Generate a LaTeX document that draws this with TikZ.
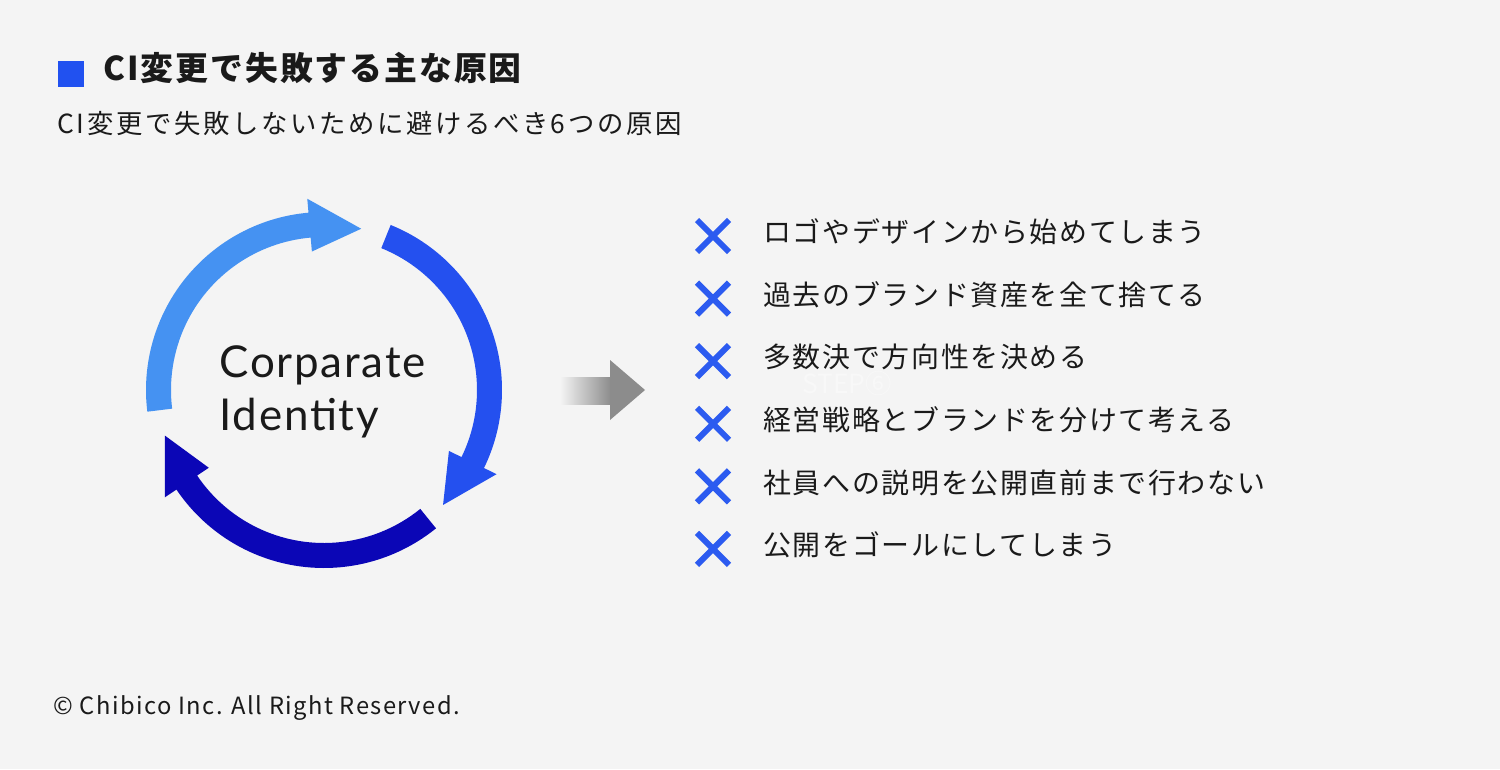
\documentclass[tikz,border=0pt]{standalone}
\usepackage{fontspec}
\usetikzlibrary{positioning,shapes.misc}
\setmainfont{Noto Sans CJK JP}
\newfontfamily\jpfont{Noto Sans CJK JP}
\newfontfamily\jpspaced[LetterSpace=6]{Noto Sans CJK JP}
\newfontfamily\subfont[LetterSpace=10]{Noto Sans CJK JP}
\newfontfamily\footfont[LetterSpace=6]{Noto Sans CJK JP}
\newfontfamily\latofont[LetterSpace=4]{Lato}

\definecolor{bgcol}{HTML}{F4F4F4}
\definecolor{squarecol}{HTML}{2151F0}
\definecolor{cycone}{HTML}{4592F2}
\definecolor{cyctwo}{HTML}{2450EF}
\definecolor{cycthree}{HTML}{0B06B6}
\definecolor{crosscol}{HTML}{2C5BF0}
\definecolor{inkcol}{HTML}{1A1A1A}
\definecolor{arrowgray}{HTML}{8C8C8C}
\definecolor{stepcol}{HTML}{F8F8F8}

\begin{document}
\begin{tikzpicture}[
        x=0.02cm, y=0.02cm,
        heading/.style={anchor=west, inner sep=0, text height=0.76em, text depth=0pt, text=inkcol},
        item/.style={anchor=west, inner sep=0, text height=0.76em, text depth=0pt, text=inkcol,
            font=\jpspaced\fontsize{15.9pt}{19pt}\selectfont},
        xmark/.style={cross out, draw=crosscol, line width=3.4pt, minimum size=0.64cm, inner sep=0, outer sep=0}
    ]
        % background
        \fill[bgcol] (0,0) rectangle (1500,769);

        % heading
        \fill[squarecol] (58,708) rectangle (84,682);
        \node [heading, font=\jpspaced\bfseries\fontsize{18.7pt}{22pt}\selectfont] (title) at (103,695) {CI変更で失敗する主な原因};
        \node [heading, font=\subfont\fontsize{15pt}{18pt}\selectfont] (sub) at (57,642) {CI変更で失敗しないために避けるべき6つの原因};

        % cycle of arrows
        \begin{scope}[shift={(324,379)}]
            \fill[cycone] (187:178) arc[start angle=187, end angle=95, radius=178] -- (95:192) -- (77:165.5) -- (95:139) -- (95:153) arc[start angle=95, end angle=187, radius=153] -- cycle;
            \fill[cyctwo] (68:178) arc[start angle=68, end angle=-26, radius=178] -- (-26:192) -- (-44:165.5) -- (-26:139) -- (-26:153) arc[start angle=-26, end angle=68, radius=153] -- cycle;
            \fill[cycthree] (-51:178) arc[start angle=-51, end angle=-146, radius=178] -- (-146:192) -- (-164:165.5) -- (-146:139) -- (-146:153) arc[start angle=-146, end angle=-51, radius=153] -- cycle;
        \end{scope}
        \node [anchor=west, align=left, inner sep=0, text=inkcol, font=\latofont\fontsize{25pt}{30pt}\selectfont] (ci) at (219,377) {Corparate\\Identity};

        % gray arrow
        \shade[left color=bgcol, right color=arrowgray] (560,392) rectangle (611,365);
        \fill[arrowgray] (610,409) -- (645,379) -- (610,349) -- cycle;
        \node [heading, text=stepcol, font=\jpfont\fontsize{15pt}{18pt}\selectfont] (step) at (802,382) {STEP⑥};

        % list of causes
        \node [item] (c1) at (763,533) {ロゴやデザインから始めてしまう};
        \node [item, below=1.252cm of c1.west, anchor=west] (c2) {過去のブランド資産を全て捨てる};
        \node [item, below=1.252cm of c2.west, anchor=west] (c3) {多数決で方向性を決める};
        \node [item, below=1.252cm of c3.west, anchor=west] (c4) {経営戦略とブランドを分けて考える};
        \node [item, below=1.252cm of c4.west, anchor=west] (c5) {社員への説明を公開直前まで行わない};
        \node [item, below=1.252cm of c5.west, anchor=west] (c6) {公開をゴールにしてしまう};

        \node [xmark, left=0.68cm of c1] (x1) {};
        \node [xmark, left=0.68cm of c2] (x2) {};
        \node [xmark, left=0.68cm of c3] (x3) {};
        \node [xmark, left=0.68cm of c4] (x4) {};
        \node [xmark, left=0.68cm of c5] (x5) {};
        \node [xmark, left=0.68cm of c6] (x6) {};

        % footer
        \node [heading, font=\footfont\fontsize{13.5pt}{16pt}\selectfont] (copy) at (53,61) {© Chibico Inc. All Right Reserved.};
    \end{tikzpicture}
\end{document}
